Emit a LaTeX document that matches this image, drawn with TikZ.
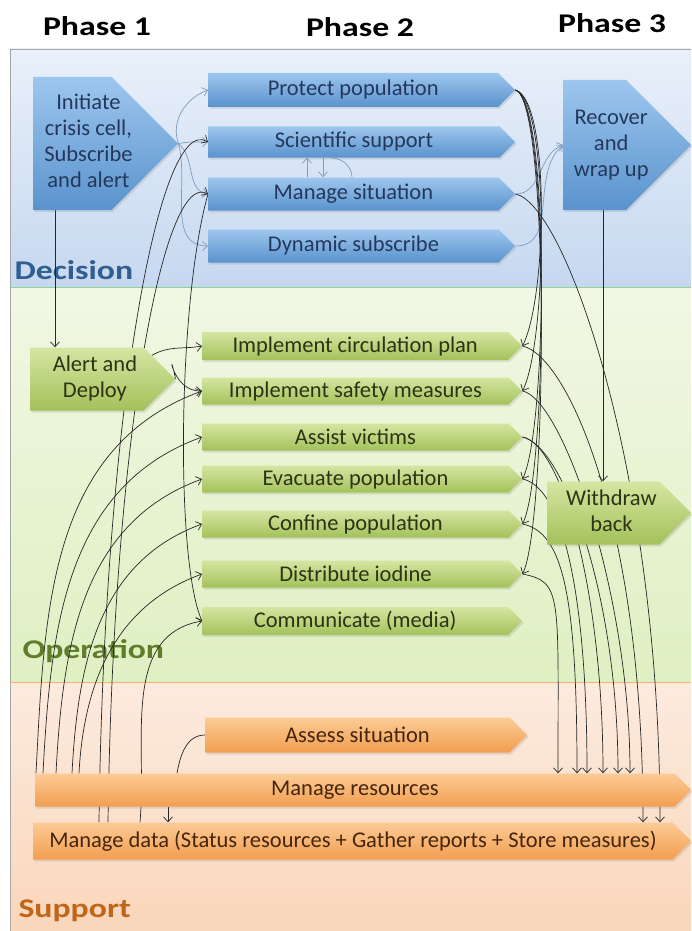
\documentclass[tikz,border=0pt]{standalone}
\usepackage{fontspec}
\setmainfont{Carlito}
\newfontfamily\capo{Carlito}[FakeStretch=1.25]
\usetikzlibrary{shapes.symbols,arrows.meta,shadows}

\definecolor{bluChiaro}{HTML}{9DC6EE}
\definecolor{bluScuro}{HTML}{5A93CD}
\definecolor{bluTesto}{HTML}{24385C}
\definecolor{verChiaro}{HTML}{D4E6A2}
\definecolor{verScuro}{HTML}{A4C15A}
\definecolor{verTesto}{HTML}{2C3414}
\definecolor{arChiaro}{HTML}{FCCB96}
\definecolor{arScuro}{HTML}{F29E50}
\definecolor{arTesto}{HTML}{45260C}
\definecolor{filoBlu}{HTML}{7E9CBE}

\pgfdeclarelayer{sfondo}
\pgfdeclarelayer{fili}
\pgfsetlayers{sfondo,fili,main}

% testo spostato a destra, senza allargare la freccia
\newcommand{\spost}[2]{\makebox[0pt]{\hspace{#1}\begin{tabular}{c}#2\end{tabular}}}

\tikzset{
  fase/.style={signal, signal to=east, signal pointer angle=90, inner sep=1pt,
    anchor=west, align=center, font=\fontsize{22.5}{26}\selectfont,
    drop shadow={opacity=0.2, shadow xshift=1.5pt, shadow yshift=-2pt}},
  dec/.style={fase, top color=bluChiaro, bottom color=bluScuro, text=bluTesto},
  op/.style={fase, top color=verChiaro, bottom color=verScuro, text=verTesto},
  sup/.style={fase, top color=arChiaro, bottom color=arScuro, text=arTesto},
  fn/.style={-{Straight Barb[length=5pt,width=9pt]}, line width=0.7pt, black!85},
  fb/.style={fn, filoBlu},
  titolo/.style={font=\capo\bfseries\fontsize{27}{30}\selectfont},
}

\begin{document}
\begin{tikzpicture}[x=1pt,y=-1pt]
  \useasboundingbox (0,0) rectangle (691,931);
  % fasce di sfondo
  \begin{pgfonlayer}{sfondo}
    \shade[top color={rgb,255:red,233;green,240;blue,250}, bottom color={rgb,255:red,198;green,216;blue,240}] (10,49) rectangle (691,287); %decisione
    \shade[top color={rgb,255:red,241;green,247;blue,228}, bottom color={rgb,255:red,223;green,240;blue,194}] (10,287) rectangle (691,682); %operazione
    \shade[top color={rgb,255:red,252;green,235;blue,223}, bottom color={rgb,255:red,250;green,214;blue,186}] (10,682) rectangle (691,931); %supporto
    \draw[gray!70] (691,49) -- (10,49) -- (10,931);
    \draw[green!40!gray!60] (10,287) -- (691,287);
    \draw[orange!60] (10,682) -- (691,682);
    \node[titolo, anchor=base west, text={rgb,255:red,48;green,94;blue,143}] (lDec) at (11,279) {Decision};
    \node[titolo, anchor=base west, text={rgb,255:red,96;green,125;blue,42}] (lOp) at (19,658) {Operation};
    \node[titolo, anchor=base west, text={rgb,255:red,192;green,102;blue,26}] (lSup) at (15,917) {Support};
  \end{pgfonlayer}
  % titoli delle fasi
  \node[titolo, anchor=base] (f1) at (97,36) {Phase 1};
  \node[titolo, anchor=base] (f2) at (360,37) {Phase 2};
  \node[titolo, anchor=base] (f3) at (612,33) {Phase 3};
  % decisione
  \node[dec, minimum width=145pt, minimum height=133pt] (init) at (33,143.5) {\spost{32pt}{Initiate\\crisis cell,\\Subscribe\\and alert}};
  \node[dec, minimum width=307pt, minimum height=34pt] (prot) at (208,90) {Protect population};
  \node[dec, minimum width=307pt, minimum height=31pt] (sci) at (208,142) {Scientific support};
  \node[dec, minimum width=307pt, minimum height=33pt] (man) at (208,194) {Manage situation};
  \node[dec, minimum width=307pt, minimum height=33pt] (dyn) at (208,246) {Dynamic subscribe};
  \node[dec, minimum width=128pt, minimum height=130pt] (rec) at (563,145) {\spost{33pt}{Recover\\and\\wrap up}};
  % operazione
  \node[op, minimum width=145pt, minimum height=63pt] (alert) at (30,379) {\spost{16pt}{Alert and\\Deploy}};
  \node[op, minimum width=320pt, minimum height=28pt] (circ) at (202,346) {Implement circulation plan};
  \node[op, minimum width=320pt, minimum height=27pt] (safe) at (202,391) {Implement safety measures};
  \node[op, minimum width=320pt, minimum height=27pt] (assist) at (202,437) {Assist victims};
  \node[op, minimum width=320pt, minimum height=27pt] (evac) at (202,479) {Evacuate population};
  \node[op, minimum width=320pt, minimum height=27pt] (conf) at (202,524) {Confine population};
  \node[op, minimum width=320pt, minimum height=27pt] (iod) at (202,574) {Distribute iodine};
  \node[op, minimum width=320pt, minimum height=28pt] (comm) at (202,621) {Communicate (media)};
  \node[op, minimum width=144pt, minimum height=63pt] (withd) at (547,513) {\spost{16pt}{Withdraw\\back}};
  % supporto
  \node[sup, minimum width=322pt, minimum height=35pt] (assess) at (205,735) {Assess situation};
  \node[sup, minimum width=656pt, minimum height=33pt] (res) at (35,790) {Manage resources};
  \node[sup, minimum width=658pt, minimum height=37pt] (dat) at (33,841) {Manage data (Status resources + Gather reports + Store measures)};

  \begin{pgfonlayer}{fili}
    % frecce blu
    \draw[fb] (init.east) to[out=110,in=200] (prot.west);
    \draw[fb] (init.east) to[out=10,in=180] (sci.west);
    \draw[fb] (init.east) to[out=-40,in=170] (man.west);
    \draw[fb] (init.east) to[out=-75,in=180] (dyn.west);
    \draw[fb] (307,0 |- man.north) -- (307,0 |- sci.south);
    \draw[fb] (323,0 |- sci.south) -- (323,0 |- man.north);
    \draw[filoBlu, line width=0.7pt] (330,0 |- sci.south) to[out=0,in=90] (352,0 |- man.north);
    \draw[fb] (man.east) to[out=0,in=200] (rec.west);
    \draw[fb] (dyn.east) to[out=0,in=220] (rec.west);
    % frecce nere verticali
    \draw[fn] (55,0 |- init.south) -- (55,0 |- alert.north);
    \draw[fn] (603,0 |- rec.south) -- (603,0 |- withd.north);
    \draw[fn] (res.south -| 168,0) -- (dat.north -| 168,0);
    % allerta
    \draw[fn] (alert.20) to[out=30,in=190] (circ.west);
    \draw[fn] (alert.east) .. controls (168,340) and (170,392) .. (safe.west);
    % dal basso a sinistra
    \foreach \xs/\dest in {36/safe,43/assist,56/evac,72/conf,79/iod}
      \draw[fn] (\xs,0 |- res.north) to[out=87,in=200] (\dest.west);
    \draw[fn] (99,0 |- dat.north) .. controls +(5,-400) and +(-50,-30) .. (sci.west);
    \draw[fn] (108,0 |- dat.north) .. controls +(5,-380) and +(-45,-25) .. (man.west);
    \draw[fn] (140,0 |- dat.north) to[out=85,in=190] (comm.west);
    \draw[fn] (man.west) .. controls (178,300) and (175,560) .. (comm.west);
    \draw[line width=0.7pt, black!85] (assess.west) to[out=180,in=80] (177,0 |- res.north);
    % fascio da protect
    \foreach \dest in {circ,safe,evac,conf,iod}
      \draw[fn] (prot.east) .. controls (550,100) and +(25,-50) .. (\dest.east);
    % verso le risorse
    \foreach \src/\xd in {iod/558,conf/577,evac/587,assist/603,assist/618,safe/630}
      \draw[fn] (\src.east) .. controls +(40,8) and +(0,-180) .. (\xd,0 |- res.north);
    \draw[fn] (circ.east) .. controls +(45,10) and +(0,-300) .. (643,0 |- dat.north);
    \draw[fn] (man.east) .. controls +(50,10) and +(0,-350) .. (660,0 |- dat.north);
  \end{pgfonlayer}
\end{tikzpicture}
\end{document}
